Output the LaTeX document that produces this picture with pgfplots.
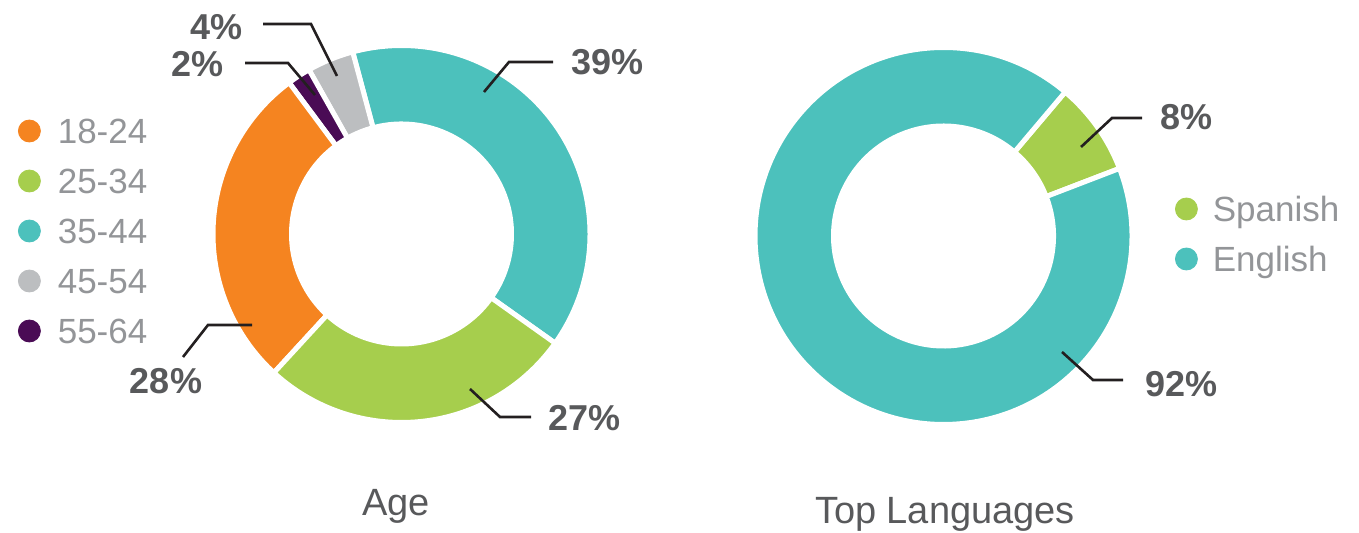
\documentclass[border=0pt]{standalone}
\usepackage{pgfplots}
\pgfplotsset{compat=1.18}
\usepackage{pgfplotstable}
\usepackage{fontspec}
\setmainfont{Liberation Sans}

\definecolor{cOrange}{HTML}{F58420}
\definecolor{cGreen}{HTML}{A6CE4D}
\definecolor{cTeal}{HTML}{4CC1BC}
\definecolor{cGray}{HTML}{BCBEC0}
\definecolor{cPurple}{HTML}{4A0B55}
\definecolor{cLabel}{HTML}{58595B}
\definecolor{cLegend}{HTML}{939598}
\definecolor{cLine}{HTML}{231F20}

% slices in counter-clockwise drawing order
\pgfplotstableread{
value color
39 cTeal
4  cGray
2  cPurple
28 cOrange
27 cGreen
}\agedata
\pgfplotstableread{
value color
8  cGreen
92 cTeal
}\langdata

% radii in px (1px = 0.5pt)
\def\Rout{188.5}\def\RoutPt{94.25pt}
\def\Rin{110}\def\RinPt{55pt}

% #1 table, #2 cx, #3 cy, #4 start angle
\newcommand\donut[4]{%
  \pgfplotstablegetrowsof{#1}\pgfmathtruncatemacro\nrows{\pgfplotsretval-1}%
  \xdef\angA{#4}%
  \foreach \i in {0,...,\nrows}{%
    \pgfplotstablegetelem{\i}{value}\of{#1}\let\val\pgfplotsretval
    \pgfplotstablegetelem{\i}{color}\of{#1}\let\col\pgfplotsretval
    \pgfmathsetmacro\angB{\angA+3.6*\val}%
    \pgfmathsetmacro\xa{#2+\Rout*cos(\angA)}%
    \pgfmathsetmacro\ya{#3+\Rout*sin(\angA)}%
    \pgfmathsetmacro\xb{#2+\Rin*cos(\angB)}%
    \pgfmathsetmacro\yb{#3+\Rin*sin(\angB)}%
    \fill[\col, draw=white, line width=2.5pt]
      (axis cs:\xa,\ya) arc[start angle=\angA, end angle=\angB, radius=\RoutPt]
      -- (axis cs:\xb,\yb) arc[start angle=\angB, end angle=\angA, radius=\RinPt] -- cycle;
    \xdef\angA{\angB}%
  }%
}

\pgfplotsset{
  donutaxis/.style={
    hide axis, scale only axis, clip=false,
    x=0.5pt, y=0.5pt,
    xmin=0, xmax=1359, ymin=0, ymax=533,
    legend image code/.code={\fill[##1] (5.5pt,0pt) circle[radius=5.5pt];},
    legend style={draw=none, fill=none, inner sep=0pt, outer sep=0pt,
      row sep=12.5pt, text=cLegend,
      font=\fontsize{17.5}{20}\selectfont,
      cells={anchor=west},
      nodes={inner sep=0pt, text height=12.5pt, text depth=0pt},
      /tikz/every odd column/.append style={column sep=8.5pt}},
    legend cell align=left,
  },
}
\tikzset{
  pct/.style={font=\fontsize{18}{20}\selectfont\bfseries, text=cLabel, inner sep=0pt},
  lead/.style={draw=cLine, line width=1.3pt},
  ttl/.style={font=\fontsize{19}{21}\selectfont, text=cLabel, inner sep=0pt, anchor=base},
}

\begin{document}
\begin{tikzpicture}
\begin{axis}[donutaxis,
  legend style={at={(axis cs:18,414.5)}, anchor=north west}]
\addlegendimage{cOrange}\addlegendentry{18-24}
\addlegendimage{cGreen}\addlegendentry{25-34}
\addlegendimage{cTeal}\addlegendentry{35-44}
\addlegendimage{cGray}\addlegendentry{45-54}
\addlegendimage{cPurple}\addlegendentry{55-64}
\path (axis cs:0,0) rectangle (axis cs:1359,533);
\pgfplotsextra{\donut{\agedata}{401.5}{299}{-35.4}}
% leader lines and labels
\draw[lead] (axis cs:484,441) -- (axis cs:509,471) -- (axis cs:553,471);
\node[pct, anchor=west] at (axis cs:571,471) {39\%};
\draw[lead] (axis cs:470,144) -- (axis cs:500,116) -- (axis cs:531,116);
\node[pct, anchor=west] at (axis cs:548,115) {27\%};
\draw[lead] (axis cs:252,208) -- (axis cs:208,208) -- (axis cs:183,176);
\node[pct] at (axis cs:166,152) {28\%};
\draw[lead] (axis cs:315,438) -- (axis cs:288,470) -- (axis cs:245,470);
\node[pct, anchor=east] at (axis cs:224,469) {2\%};
\draw[lead] (axis cs:337,457) -- (axis cs:311,509) -- (axis cs:263,509);
\node[pct, anchor=east] at (axis cs:243,506) {4\%};
\node[ttl] at (axis cs:396,17) {Age};
\end{axis}

\begin{axis}[donutaxis,
  legend style={at={(axis cs:1175,336.5)}, anchor=north west,
    /tikz/every odd column/.append style={column sep=7.5pt}}]
\addlegendimage{cGreen}\addlegendentry{Spanish}
\addlegendimage{cTeal}\addlegendentry{English}
\pgfplotsextra{\donut{\langdata}{943.5}{297}{21}}
\draw[lead] (axis cs:1081,386) -- (axis cs:1112,415) -- (axis cs:1142,415);
\node[pct, anchor=west] at (axis cs:1160,416) {8\%};
\draw[lead] (axis cs:1062,181) -- (axis cs:1093,153) -- (axis cs:1123,153);
\node[pct, anchor=west] at (axis cs:1145,149) {92\%};
\node[ttl] at (axis cs:945,9) {Top Languages};
\end{axis}
\end{tikzpicture}
\end{document}
